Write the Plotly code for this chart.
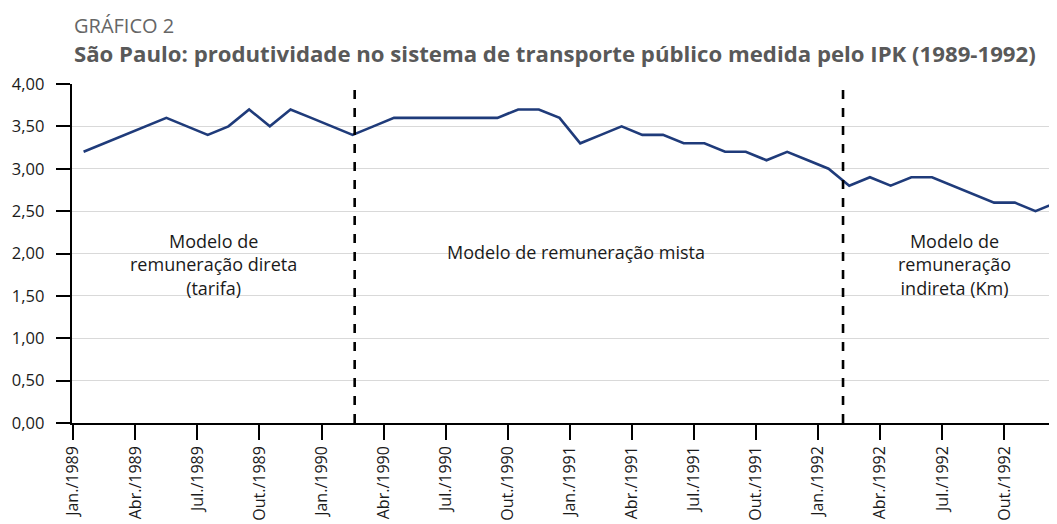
import plotly.graph_objects as go

# Monthly IPK values, Jan/1989 .. Dec/1992
months_pt = ["Jan.", "Fev.", "Mar.", "Abr.", "Mai.", "Jun.", "Jul.", "Ago.", "Set.", "Out.", "Nov.", "Dez."]
years = [1989, 1990, 1991, 1992]
ipk = [3.2, 3.3, 3.4, 3.5, 3.6, 3.5, 3.4, 3.5, 3.7, 3.5, 3.7, 3.6,
       3.5, 3.4, 3.5, 3.6, 3.6, 3.6, 3.6, 3.6, 3.6, 3.7, 3.7, 3.6,
       3.3, 3.4, 3.5, 3.4, 3.4, 3.3, 3.3, 3.2, 3.2, 3.1, 3.2, 3.1,
       3.0, 2.8, 2.9, 2.8, 2.9, 2.9, 2.8, 2.7, 2.6, 2.6, 2.5, 2.6]
y_ticks = [0, 0.5, 1, 1.5, 2, 2.5, 3, 3.5, 4]
y_tick_text = ["0,00", "0,50", "1,00", "1,50", "2,00", "2,50", "3,00", "3,50", "4,00"]
period_breaks = [13.6, 37.2]  # month positions of the regime changes
period_labels = ["Modelo de<br>remuneração direta<br>(tarifa)",
                 "Modelo de remuneração mista",
                 "Modelo de<br>remuneração<br>indireta (Km)"]
period_label_x = [6.8, 24.3, 42.6]
period_label_y = [1.87, 2.02, 1.87]

labels = [f"{m}/{y}" for y in years for m in months_pt]
x_pos = [i + 0.5 for i in range(len(ipk))]
tick_vals = list(range(0, len(ipk), 3))
tick_text = [labels[i] for i in tick_vals]
y_tick_shown = [t + "\u00a0\u00a0" for t in y_tick_text]

OFF = 8  # page body margin of the html page
W, H = 1057 - OFF, 524 - OFF
ML, MR, MT = 72 - OFF, 0, 84 - OFF
MB = H - (423.4 - OFF)
plot_h = H - MT - MB


def py(p_screen):
    return (H - MB - (p_screen - OFF)) / plot_h


fig = go.Figure()
fig.add_trace(go.Scatter(x=x_pos, y=ipk, mode="lines",
                         line=dict(color="#1f3b7a", width=2.6),
                         hoverinfo="skip", showlegend=False, cliponaxis=True))

for xb in period_breaks:
    fig.add_shape(type="line", xref="x", yref="y", x0=xb, x1=xb, y0=0, y1=4,
                  line=dict(color="black", width=2.6, dash="dash"))

for txt, lx, ly in zip(period_labels, period_label_x, period_label_y):
    fig.add_annotation(x=lx, y=ly, xref="x", yref="y", text=txt, showarrow=False,
                       font=dict(family="Open Sans", size=18, color="#1a1a1a"),
                       align="center")

fig.add_annotation(xref="paper", yref="paper", x=0, y=py(25), xanchor="left", yanchor="middle",
                   text="GRÁFICO 2", showarrow=False,
                   font=dict(family="Open Sans", size=20, color="#666666"))
fig.add_annotation(xref="paper", yref="paper", x=0, y=py(53), xanchor="left", yanchor="middle",
                   text="<b>São Paulo: produtividade no sistema de transporte público medida pelo IPK (1989-1992)</b>",
                   showarrow=False,
                   font=dict(family="Open Sans", size=22.2, color="#595959"))

fig.update_layout(
    width=W, height=H,
    margin=dict(l=ML, r=MR, t=MT, b=MB, autoexpand=False),
    plot_bgcolor="white", paper_bgcolor="white",
    font=dict(family="Open Sans", size=16, color="#1a1a1a"),
    xaxis=dict(range=[-0.06, 47.54], tickmode="array", tickvals=tick_vals, ticktext=tick_text,
               tickangle=-90, ticks="outside", ticklen=15, tickwidth=1.5, tickcolor="black",
               showline=True, linecolor="black", linewidth=1.5, showgrid=False, zeroline=False,
               automargin=False, tickfont=dict(size=16)),
    yaxis=dict(range=[0, 4], tickmode="array", tickvals=y_ticks, ticktext=y_tick_shown,
               ticks="outside", ticklen=14, tickwidth=1.5, tickcolor="black",
               showline=True, linecolor="black", linewidth=1.5,
               showgrid=True, gridcolor="#d9d9d9", gridwidth=1, zeroline=False,
               automargin=False, tickfont=dict(size=16.5)),
)

fig.write_html("out.html")
